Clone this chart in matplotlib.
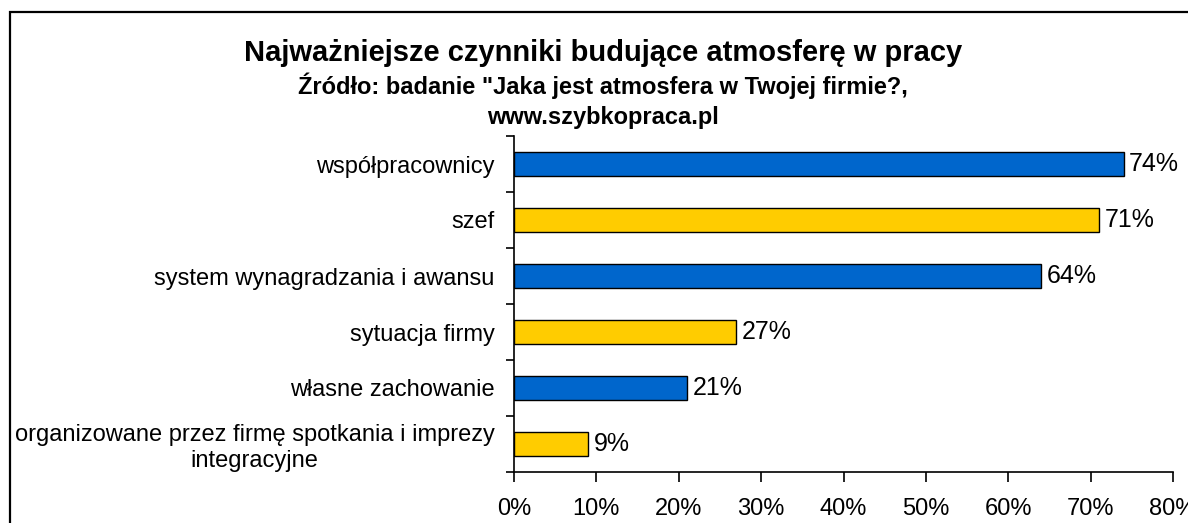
import matplotlib
matplotlib.use("Agg")
import matplotlib.pyplot as plt
from matplotlib.patches import Rectangle
from matplotlib.ticker import FixedLocator, PercentFormatter

categories = [
    "współpracownicy",
    "szef",
    "system wynagradzania i awansu",
    "sytuacja firmy",
    "własne zachowanie",
    "organizowane przez firmę spotkania i imprezy\nintegracyjne",
]
values = [74, 71, 64, 27, 21, 9]
colors = ["#0066CC", "#FFCC00", "#0066CC", "#FFCC00", "#0066CC", "#FFCC00"]
x_ticks = [0, 10, 20, 30, 40, 50, 60, 70, 80]

title = "Najważniejsze czynniki budujące atmosferę w pracy"
subtitle1 = "Źródło: badanie \"Jaka jest atmosfera w Twojej firmie?,"
subtitle2 = "www.szybkopraca.pl"

plt.rcParams['font.family'] = ['Liberation Sans', 'DejaVu Sans']

W, H = 1188, 523
fig = plt.figure(figsize=(W / 100, H / 100), dpi=100)
ax = fig.add_axes([514 / W, 1 - 472 / H, (1173 - 514) / W, (472 - 136) / H])

n = len(categories)
ypos = list(range(n))
ax.barh(ypos, values, height=0.42, color=colors, edgecolor="black", linewidth=1.0)
ax.set_ylim(n - 0.5, -0.5)
ax.set_xlim(0, 80)

for y, v in zip(ypos, values):
    ax.annotate(f"{v}%", (v, y), xytext=(4, 0), textcoords="offset points",
                va="center", ha="left", fontsize=18)

ax.set_yticks(ypos)
ax.set_yticklabels(categories, fontsize=17, multialignment="center")
ax.yaxis.set_minor_locator(FixedLocator([i - 0.5 for i in range(n + 1)]))
ax.tick_params(axis="y", which="major", length=0, pad=14)
ax.tick_params(axis="y", which="minor", length=6, width=1.2, direction="out")

ax.set_xticks(x_ticks)
ax.xaxis.set_major_formatter(PercentFormatter(decimals=0))
ax.tick_params(axis="x", which="major", length=7, width=1.2, pad=12, labelsize=17)

for s in ["top", "right"]:
    ax.spines[s].set_visible(False)
for s in ["left", "bottom"]:
    ax.spines[s].set_linewidth(1.2)

fig.text(603 / W, 1 - 61 / H, title,
         ha="center", va="baseline", fontsize=21, fontweight="bold")
fig.text(603 / W, 1 - 94 / H, subtitle1,
         ha="center", va="baseline", fontsize=17, fontweight="bold")
fig.text(603 / W, 1 - 124 / H, subtitle2,
         ha="center", va="baseline", fontsize=17, fontweight="bold")

fig.patches.append(Rectangle((9.5 / W, -0.1), 1.2, 1.1 - 12.5 / H,
                             transform=fig.transFigure, fill=False,
                             edgecolor="black", linewidth=1.6, clip_on=False))

fig.savefig("out.png", dpi=100)
